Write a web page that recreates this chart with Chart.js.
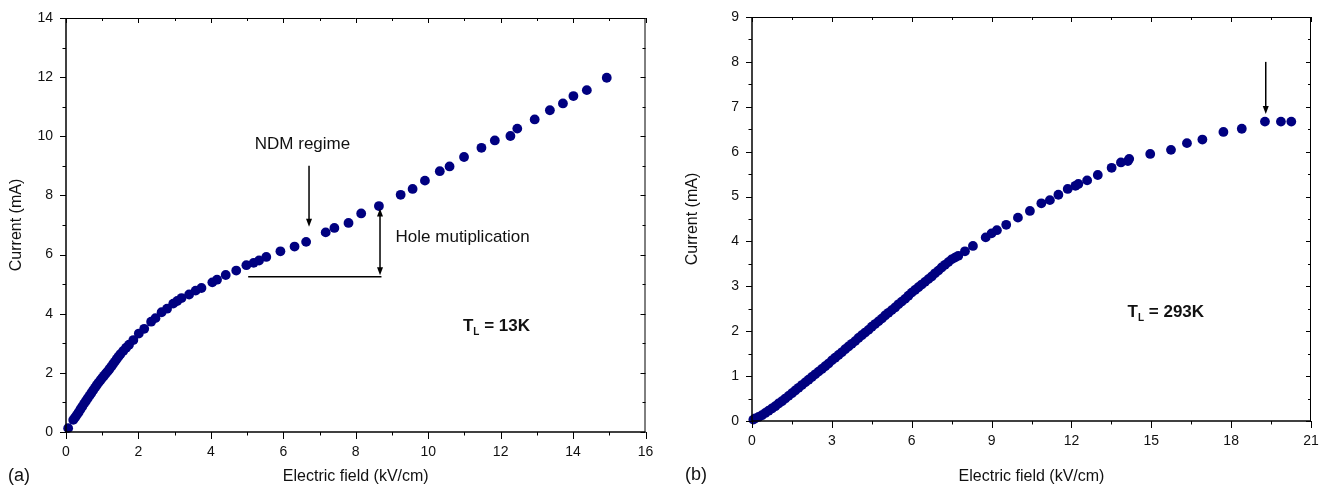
<!DOCTYPE html>
<html>
<head>
<meta charset="utf-8">
<script src="https://cdn.jsdelivr.net/npm/chart.js@4/dist/chart.umd.min.js"></script>
<style>
  body { margin: 0; background: #fff; }
  #wrap { position: relative; width: 1325px; height: 489px; font-family: "Liberation Sans", Arial, sans-serif; color: #111; }
  .panel { position: absolute; top: 0; height: 489px; }
  .tag { position: absolute; font-size: 18px; line-height: 20px; }
</style>
</head>
<body>
<div id="wrap">
  <div class="panel" style="left:0;width:660px"><canvas id="chartA" width="660" height="489"></canvas></div>
  <div class="panel" style="left:660px;width:665px"><canvas id="chartB" width="665" height="489"></canvas></div>
  <span class="tag" style="left:8px;top:465px">(a)</span>
  <span class="tag" style="left:685px;top:464px">(b)</span>
</div>
<script>
// (a) T_L = 13K
const fieldA = [0.06, 0.2, 0.25, 0.3, 0.35, 0.4, 0.45, 0.5, 0.55, 0.6, 0.65, 0.7, 0.75, 0.8, 0.85, 0.9, 0.95, 1.0,
  1.05, 1.1, 1.15, 1.2, 1.25, 1.3, 1.35, 1.4, 1.45, 1.5, 1.58, 1.66, 1.74, 1.86, 2.01,
  2.16, 2.35, 2.47, 2.64, 2.79, 2.96, 3.07, 3.19, 3.40, 3.58, 3.74, 4.04, 4.17, 4.41, 4.70, 4.98, 5.18, 5.33, 5.53, 5.92,
  6.31, 6.63, 7.17, 7.41, 7.80, 8.15, 8.64, 9.24, 9.57, 9.91, 10.32, 10.59, 10.99, 11.47, 11.84, 12.27, 12.46, 12.94, 13.36, 13.72,
  14.01, 14.38, 14.93];
const currentA = [0.13, 0.41, 0.49, 0.58, 0.67, 0.77, 0.86, 0.96, 1.05, 1.14, 1.23, 1.32, 1.41, 1.5, 1.59, 1.67, 1.75, 1.83,
  1.90, 1.98, 2.05, 2.13, 2.21, 2.3, 2.38, 2.47, 2.55, 2.63, 2.74, 2.85, 2.95, 3.11, 3.33,
  3.49, 3.73, 3.85, 4.05, 4.17, 4.34, 4.43, 4.53, 4.65, 4.78, 4.87, 5.06, 5.15, 5.31, 5.46, 5.64, 5.72, 5.80, 5.92, 6.11,
  6.27, 6.43, 6.75, 6.90, 7.07, 7.39, 7.64, 8.02, 8.22, 8.50, 8.82, 8.98, 9.30, 9.61, 9.86, 10.01, 10.26, 10.57, 10.88, 11.11,
  11.36, 11.56, 11.98];
const xMajorA = [0, 2, 4, 6, 8, 10, 12, 14, 16];
const xMinorA = [1, 3, 5, 7, 9, 11, 13, 15];
const yMajorA = [0, 2, 4, 6, 8, 10, 12, 14];
const yMinorA = [1, 3, 5, 7, 9, 11, 13];

// (b) T_L = 293K
const fieldB = [0.05, 0.125, 0.25, 0.375, 0.5, 0.625, 0.75, 0.875, 1.0, 1.125, 1.25, 1.375, 1.5, 1.625, 1.75, 1.875,
  2.0, 2.125, 2.25, 2.375, 2.5, 2.625, 2.75, 2.875, 3.0, 3.125, 3.25, 3.375, 3.5, 3.625, 3.75, 3.875,
  4.0, 4.125, 4.25, 4.375, 4.5, 4.625, 4.75, 4.875, 5.0, 5.125, 5.25, 5.375, 5.5, 5.625, 5.75, 5.875,
  6.0, 6.125, 6.25, 6.375, 6.5, 6.625, 6.75, 6.875, 7.0, 7.125, 7.25, 7.375, 7.5, 7.625, 7.75, 8.0, 8.3,
  8.78, 9.0, 9.2, 9.55, 9.99, 10.44, 10.87, 11.19, 11.51, 11.86, 12.15, 12.26, 12.59, 12.99, 13.51, 13.86,
  14.12, 14.17, 14.96, 15.74, 16.34, 16.92, 17.71, 18.40, 19.27, 19.87, 20.26];
const currentB = [0.03, 0.06, 0.09, 0.13, 0.18, 0.23, 0.28, 0.33, 0.39, 0.44, 0.5, 0.56, 0.62, 0.68, 0.74, 0.80,
  0.86, 0.92, 0.98, 1.04, 1.1, 1.16, 1.22, 1.28, 1.35, 1.41, 1.47, 1.53, 1.6, 1.66, 1.72, 1.78,
  1.85, 1.91, 1.97, 2.03, 2.1, 2.16, 2.22, 2.28, 2.35, 2.41, 2.47, 2.53, 2.6, 2.66, 2.72, 2.79,
  2.86, 2.92, 2.98, 3.04, 3.1, 3.16, 3.22, 3.29, 3.35, 3.42, 3.48, 3.54, 3.6, 3.64, 3.68, 3.78, 3.90,
  4.09, 4.18, 4.25, 4.37, 4.53, 4.68, 4.85, 4.92, 5.04, 5.17, 5.24, 5.28, 5.36, 5.48, 5.64, 5.76,
  5.79, 5.84, 5.95, 6.04, 6.19, 6.27, 6.44, 6.51, 6.67, 6.67, 6.67];
const xMajorB = [0, 3, 6, 9, 12, 15, 18, 21];
const xMinorB = [1.5, 4.5, 7.5, 10.5, 13.5, 16.5, 19.5];
const yMajorB = [0, 1, 2, 3, 4, 5, 6, 7, 8, 9];
const yMinorB = [0.5, 1.5, 2.5, 3.5, 4.5, 5.5, 6.5, 7.5, 8.5];

const NAVY = '#000080';
const INK = '#111';
const FONT = '"Liberation Sans", Arial, sans-serif';
Chart.defaults.font.family = FONT;
Chart.defaults.color = INK;

// frame with mirrored ticks, plus the arrows and notes, all placed through the scales
const panelDecor = {
  id: 'panelDecor',
  afterDatasetsDraw(chart, args, o) {
    const { ctx, chartArea: a, scales: { x, y } } = chart;
    const line = (x1, y1, x2, y2) => { ctx.beginPath(); ctx.moveTo(x1, y1); ctx.lineTo(x2, y2); ctx.stroke(); };
    const head = (tx, ty, dir) => {
      ctx.beginPath();
      ctx.moveTo(tx, ty);
      ctx.lineTo(tx - 3, ty - dir * 8);
      ctx.lineTo(tx + 3, ty - dir * 8);
      ctx.closePath();
      ctx.fill();
    };
    ctx.save();
    ctx.strokeStyle = '#000';
    ctx.fillStyle = '#000';

    // frame
    ctx.lineWidth = 1;
    line(a.left, a.top + 0.5, a.right, a.top + 0.5);
    line(a.right - 0.5, a.top, a.right - 0.5, a.bottom);
    ctx.lineWidth = 1.5;
    line(a.left, a.bottom, a.right, a.bottom);
    line(a.left, a.top, a.left, a.bottom + 0.75);

    // ticks: out on bottom/left, in on top/right
    ctx.lineWidth = 1;
    o.xMajor.forEach(v => { const p = Math.round(x.getPixelForValue(v)) + 0.5; line(p, a.bottom, p, a.bottom + 7); line(p, a.top, p, a.top + 5); });
    o.xMinor.forEach(v => { const p = Math.round(x.getPixelForValue(v)) + 0.5; line(p, a.bottom, p, a.bottom + 3.5); line(p, a.top, p, a.top + 3); });
    o.yMajor.forEach(v => { const p = Math.round(y.getPixelForValue(v)) + 0.5; line(a.left, p, a.left - 6, p); line(a.right, p, a.right - 5, p); });
    o.yMinor.forEach(v => { const p = Math.round(y.getPixelForValue(v)) + 0.5; line(a.left, p, a.left - 3.5, p); line(a.right, p, a.right - 3, p); });

    // annotations
    ctx.lineWidth = 1.5;
    (o.segments || []).forEach(s => line(x.getPixelForValue(s.x1), y.getPixelForValue(s.y1), x.getPixelForValue(s.x2), y.getPixelForValue(s.y2)));
    (o.arrows || []).forEach(s => {
      const px = x.getPixelForValue(s.x);
      const p1 = y.getPixelForValue(s.from), p2 = y.getPixelForValue(s.to);
      const dir = p2 > p1 ? 1 : -1;
      line(px, p1 + (s.both ? dir * 6 : 0), px, p2 - dir * 6);
      head(px, p2, dir);
      if (s.both) head(px, p1, -dir);
    });
    ctx.textBaseline = 'middle';
    (o.notes || []).forEach(n => {
      ctx.font = '17px ' + FONT;
      ctx.textAlign = n.align;
      ctx.fillStyle = INK;
      ctx.fillText(n.text, x.getPixelForValue(n.x), y.getPixelForValue(n.y));
    });
    if (o.temp) {
      const t = o.temp;
      let px = x.getPixelForValue(t.x);
      const py = y.getPixelForValue(t.y);
      ctx.textAlign = 'left';
      ctx.fillStyle = INK;
      ctx.font = 'bold 17px ' + FONT;
      ctx.fillText('T', px, py);
      px += ctx.measureText('T').width;
      ctx.font = 'bold 10px ' + FONT;
      ctx.fillText('L', px, py + 6);
      px += ctx.measureText('L').width;
      ctx.font = 'bold 17px ' + FONT;
      ctx.fillText(' = ' + t.text, px, py);
    }
    ctx.restore();
  }
};

function makeChart(id, c) {
  const tickFont = { size: 14 };
  return new Chart(document.getElementById(id), {
    type: 'scatter',
    data: {
      datasets: [{
        data: c.xs.map((v, i) => ({ x: v, y: c.ys[i] })),
        pointRadius: 4.9,
        pointBackgroundColor: NAVY,
        pointBorderWidth: 0,
        clip: false
      }]
    },
    options: {
      responsive: false,
      animation: false,
      events: [],
      devicePixelRatio: 1,
      layout: { padding: c.pad },
      plugins: { legend: { display: false }, tooltip: { enabled: false }, panelDecor: c.decor },
      scales: {
        x: {
          type: 'linear', min: c.xMajor[0], max: c.xMajor[c.xMajor.length - 1],
          afterBuildTicks: s => { s.ticks = c.xMajor.map(v => ({ value: v })); },
          afterFit: s => { s.height = c.xHeight; },
          // tick marks are drawn by the plugin; tickLength only sets the label gap
          grid: { display: false, drawTicks: true, tickLength: 12 },
          border: { display: false },
          ticks: { font: tickFont, color: INK, padding: 0, maxRotation: 0, autoSkip: false },
          title: { display: true, text: 'Electric field (kV/cm)', font: { size: 16 }, color: INK, padding: { top: 0, bottom: 3 } }
        },
        y: {
          type: 'linear', min: c.yMajor[0], max: c.yMajor[c.yMajor.length - 1],
          afterBuildTicks: s => { s.ticks = c.yMajor.map(v => ({ value: v })); },
          afterFit: s => { s.width = c.yWidth; },
          grid: { display: false, drawTicks: true, tickLength: 13 },
          border: { display: false },
          ticks: { font: tickFont, color: INK, padding: 0, autoSkip: false },
          title: { display: true, text: 'Current (mA)', font: { size: 16 }, color: INK, padding: { top: c.yTitlePad, bottom: 0 } }
        }
      }
    },
    plugins: [panelDecor]
  });
}

makeChart('chartA', {
  xs: fieldA, ys: currentA, xMajor: xMajorA, yMajor: yMajorA,
  pad: { top: 18, right: 14.5, left: 0, bottom: 0 }, yWidth: 66, xHeight: 57, yTitlePad: 7.4,
  decor: {
    xMajor: xMajorA, xMinor: xMinorA, yMajor: yMajorA, yMinor: yMinorA,
    segments: [{ x1: 5.03, y1: 5.25, x2: 8.71, y2: 5.25 }],
    arrows: [{ x: 6.71, from: 9.0, to: 6.94 }, { x: 8.67, from: 5.30, to: 7.56, both: true }],
    notes: [{ text: 'NDM regime', x: 6.53, y: 9.72, align: 'center' }, { text: 'Hole mutiplication', x: 9.1, y: 6.6, align: 'left' }],
    temp: { x: 10.96, y: 3.58, text: '13K' }
  }
});

makeChart('chartB', {
  xs: fieldB, ys: currentB, xMajor: xMajorB, yMajor: yMajorB,
  pad: { top: 17, right: 14, left: 0, bottom: 0 }, yWidth: 92, xHeight: 68, yTitlePad: 23.4,
  decor: {
    xMajor: xMajorB, xMinor: xMinorB, yMajor: yMajorB, yMinor: yMinorB,
    arrows: [{ x: 19.3, from: 8.0, to: 6.84 }],
    temp: { x: 14.11, y: 2.43, text: '293K' }
  }
});
</script>
</body>
</html>
